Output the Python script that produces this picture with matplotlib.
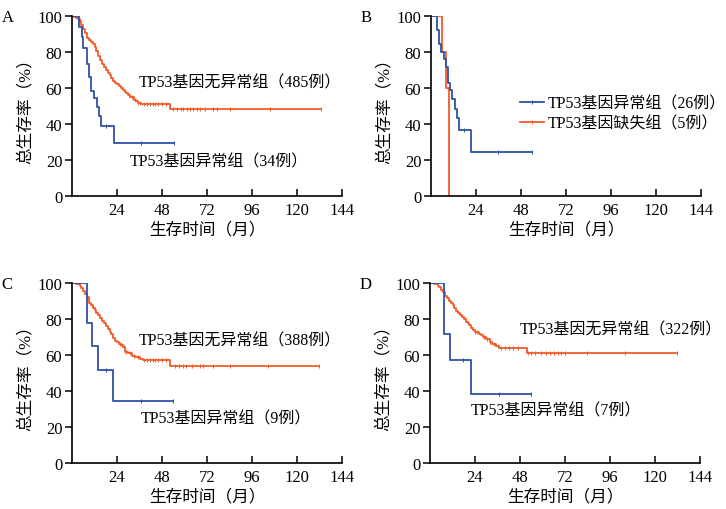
import matplotlib.pyplot as plt
import numpy as np

plt.rcParams['font.family'] = ['Liberation Serif', 'Noto Sans CJK SC']
plt.rcParams['axes.unicode_minus'] = False

BLUE = '#2d52a6'
ORANGE = '#f25a29'

# A: 34 abnormal vs 485 normal
a_blue_t = [0, 3.9, 5.2, 6.0, 8.2, 9.0, 10.0, 11.7, 13.1, 14.2, 15.3, 22.6]
a_blue_s = [100, 94.1, 88.2, 82.4, 73.5, 66.0, 58.5, 54.3, 49.6, 44.4, 38.9, 29.3]
a_blue_end = 54.4
a_blue_cens = [18.0, 37.0, 54.4]

a_or_t = [0, 1, 2, 3, 4, 5, 6, 7, 8, 9, 10, 11, 12, 13, 14, 15, 16, 17, 18, 19, 20,
          21, 22, 23, 24, 25, 26, 27, 28, 29, 30, 31, 32, 33, 34, 35, 37, 52.3]
a_or_s = [100, 99.5, 99, 98.3, 97, 95, 92.8, 90.5, 88, 86.5, 85.3, 84.2, 83, 80.5,
          77.5, 75.5, 73.5, 71.5, 70, 68.5, 67, 65.5, 64, 63, 62, 61, 60, 59, 58,
          57, 56, 55, 54.8, 53.5, 52.5, 51.8, 51.1, 48.3]
a_or_end = 132.5
a_or_cens = [30.5, 32, 33.5, 35, 36.5, 38.5, 40, 41.5, 43, 44.5, 46, 48, 50, 54, 56,
             58, 59.4, 61.2, 63, 64.7, 66.5, 68.3, 70.9, 75.4, 77.2, 84.3, 105.6, 132.5]

# B: 26 abnormal vs 5 deleted
b_blue_t = [0, 3.2, 4.4, 5.5, 7.1, 7.8, 9.1, 10.0, 11.0, 12.6, 13.7, 14.8, 21.5]
b_blue_s = [100, 92.3, 84.6, 80.0, 76.0, 71.5, 63.0, 59.0, 53.9, 48.3, 43.2, 36.8, 24.6]
b_blue_end = 54.0
b_blue_cens = [17.6, 35.7, 54.0]

b_or_t = [0, 5.8, 7.8, 9.6]
b_or_s = [100, 80, 60, 0]
b_or_end = 9.6
b_or_cens = []

# C: 9 abnormal vs 388 normal
c_blue_t = [0, 7.8, 10.5, 13.7, 22.0]
c_blue_s = [100, 77.8, 65.2, 51.9, 34.6]
c_blue_end = 54.0
c_blue_cens = [18.2, 37.0, 54.0]

c_or_t = [0, 2, 4, 5, 6, 7, 8, 9, 10, 11, 12, 13, 14, 15, 16, 17, 18, 19, 20, 21, 22,
          23, 24, 25, 26, 27, 28, 30, 32, 33.5, 36, 38, 52]
c_or_s = [100, 99.3, 98.5, 97, 95.7, 94, 92, 89, 87.5, 86, 85, 83.5, 82, 80.5, 79,
          77.5, 76, 74.5, 73, 71.5, 69.5, 68, 67, 66, 65.5, 64.5, 61.5, 61, 59.5,
          58.7, 57.8, 57.2, 54]
c_or_end = 131.8
c_or_cens = [25.5, 26.5, 27.5, 29, 31, 33, 35, 38.5, 40, 41.5, 43, 44.5, 46, 48, 50,
             55, 57, 59, 61, 63.8, 68, 70, 75.3, 84.2, 104.6, 131.8]

# D: 7 abnormal vs 322 normal
d_blue_t = [0, 7.5, 10.7, 21.7]
d_blue_s = [100, 71.4, 57.1, 38.1]
d_blue_end = 53.7
d_blue_cens = [17.8, 36.8, 53.7]

d_or_t = [0, 2, 4, 5, 6, 7, 8, 9, 10, 11, 12, 13, 14, 15, 16, 17, 18, 19, 20, 21, 22,
          23, 24, 25, 26, 27, 28, 30, 32, 33, 35, 37, 51.5]
d_or_s = [100, 99.5, 98.5, 97.5, 96, 94.8, 93, 91.5, 90.2, 89, 87.8, 86, 84.6, 83.5,
          82.3, 81, 79.8, 78.5, 77.5, 76.5, 75, 74, 73, 72.5, 71.7, 71, 69.8, 69, 67,
          66.1, 65.2, 63.8, 60.9]
d_or_end = 131.5
d_or_cens = [18.5, 24, 25, 29, 30.5, 32, 34, 36, 38, 40, 42, 44, 47, 52, 54, 56, 59,
             62, 64, 66, 68, 70, 72, 83.5, 104, 131.5]

FS = 12      # ticks / axis labels
TS = 11.5    # curve annotations


def km(ax, t, s, end, cens, color):
    tt = list(t) + [end]
    ss = list(s) + [s[-1]]
    ax.plot(tt, ss, drawstyle='steps-post', color=color, lw=1.3)
    if cens:
        idx = np.searchsorted(t, cens, side='right') - 1
        ax.plot(cens, np.array(s)[idx], ls='none', marker='|', ms=3,
                mew=0.7, color=color)


def style(ax, letter):
    ax.set_xlim(0, 144)
    ax.set_ylim(0, 100)
    ax.set_xticks([24, 48, 72, 96, 120, 144])
    ax.set_yticks([0, 20, 40, 60, 80, 100])
    ax.spines['top'].set_visible(False)
    ax.spines['right'].set_visible(False)
    for sp in ('left', 'bottom'):
        ax.spines[sp].set_linewidth(1.2)
    ax.tick_params(axis='x', direction='in', length=5, width=1.1, labelsize=FS, pad=4)
    ax.tick_params(axis='y', direction='out', length=5, width=1.1, labelsize=FS, pad=2)
    ax.set_xlabel('生存时间（月）', fontsize=FS, labelpad=3)
    ax.set_ylabel('总生存率（%）', fontsize=FS, labelpad=3)
    ax.text(-0.26, 1.04, letter, transform=ax.transAxes, fontsize=FS,
            ha='left', va='top')


fig = plt.figure(figsize=(7.26, 5.10), dpi=100)
w, h = 0.372, 0.353
axA = fig.add_axes([0.0992, 0.6137, w, h])
axB = fig.add_axes([0.5937, 0.6137, w, h])
axC = fig.add_axes([0.0992, 0.0902, w, h])
axD = fig.add_axes([0.5923, 0.0902, w, h])

km(axA, a_or_t, a_or_s, a_or_end, a_or_cens, ORANGE)
km(axA, a_blue_t, a_blue_s, a_blue_end, a_blue_cens, BLUE)
style(axA, 'A')
axA.text(35.5, 63, 'TP53基因无异常组（485例）', fontsize=TS, va='center')
axA.text(31, 19, 'TP53基因异常组（34例）', fontsize=TS, va='center')

km(axB, b_or_t, b_or_s, b_or_end, b_or_cens, ORANGE)
km(axB, b_blue_t, b_blue_s, b_blue_end, b_blue_cens, BLUE)
style(axB, 'B')
hb, = axB.plot([], [], color=BLUE, lw=1.3, marker='|', ms=3, mew=0.7)
ho, = axB.plot([], [], color=ORANGE, lw=1.3, marker='|', ms=3, mew=0.7)
axB.legend([hb, ho], ['TP53基因异常组（26例）', 'TP53基因缺失组（5例）'],
           loc='center left', bbox_to_anchor=(0.33, 0.46), frameon=False,
           fontsize=TS, handlelength=1.5, handletextpad=0.2, labelspacing=0.25,
           borderpad=0, borderaxespad=0, numpoints=1)

km(axC, c_or_t, c_or_s, c_or_end, c_or_cens, ORANGE)
km(axC, c_blue_t, c_blue_s, c_blue_end, c_blue_cens, BLUE)
style(axC, 'C')
axC.text(35.5, 68, 'TP53基因无异常组（388例）', fontsize=TS, va='center')
axC.text(36.5, 25, 'TP53基因异常组（9例）', fontsize=TS, va='center')

km(axD, d_or_t, d_or_s, d_or_end, d_or_cens, ORANGE)
km(axD, d_blue_t, d_blue_s, d_blue_end, d_blue_cens, BLUE)
style(axD, 'D')
axD.text(48, 74, 'TP53基因无异常组（322例）', fontsize=TS, va='center')
axD.text(21.5, 29, 'TP53基因异常组（7例）', fontsize=TS, va='center')

fig.savefig('out.png', dpi=100)
